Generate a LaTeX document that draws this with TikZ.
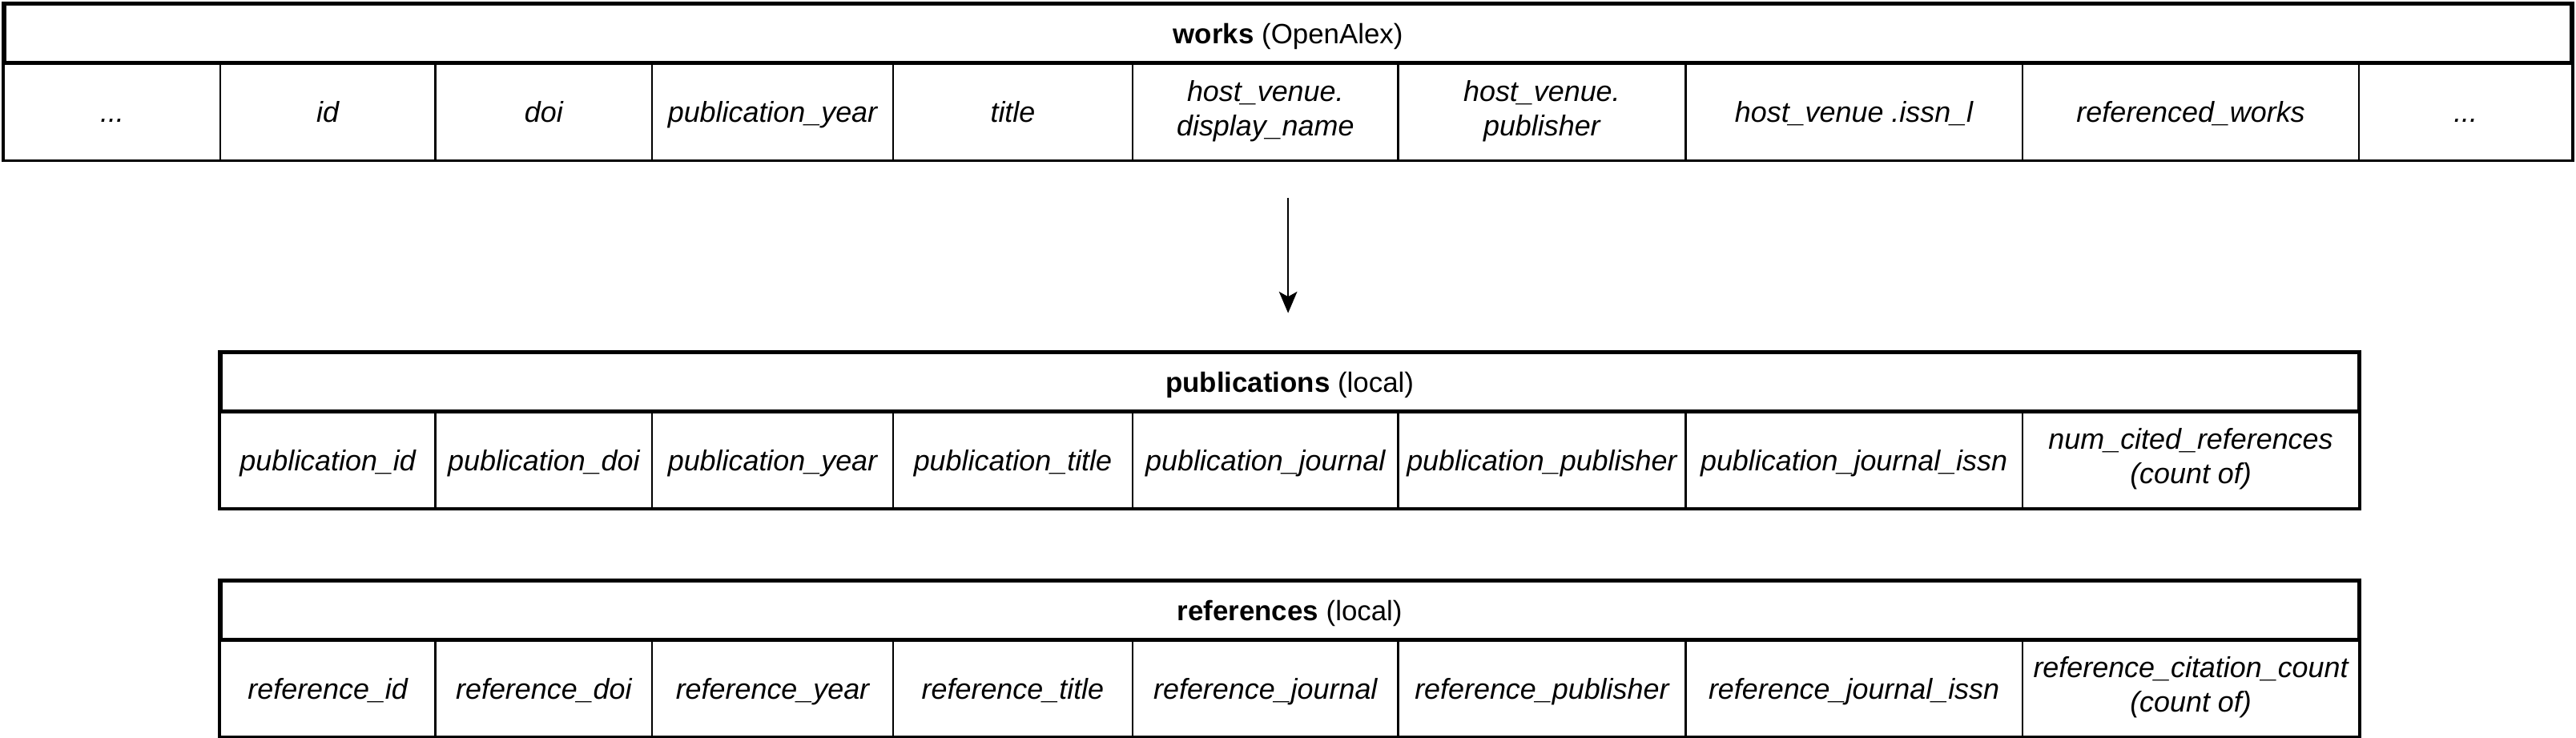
\documentclass[tikz,border=0pt]{standalone}
\usepackage{fontspec}
\setmainfont{Liberation Sans}
\usetikzlibrary{arrows.meta}

\newcommand{\cellstrut}{\rule[-4.5pt]{0pt}{22pt}}

\tikzset{
  cell/.style={draw, line width=1.1pt, inner sep=0pt, align=center,
    minimum height=58.8pt, font=\fontsize{17.5}{21}\selectfont\itshape,
    execute at begin node=\cellstrut, execute at end node=\cellstrut},
  headbox/.style={draw, line width=2.6pt, inner sep=0pt,
    minimum height=36pt, font=\fontsize{17}{21}\selectfont,
    execute at begin node=\cellstrut},
  rowframe/.style={draw, line width=1.6pt},
}

\begin{document}
\begin{tikzpicture}[x=1pt, y=-1pt]
\useasboundingbox (0,0) rectangle (1568,449);

% works (OpenAlex)
\foreach \xa/\xb/\txt [count=\i] in {2.5/134/{...}, 134/265/id, 265/397/doi,
    397/543.5/publication\_year, 543.5/689.5/title,
    689.5/851/{host\_venue.\\display\_name}, 851/1026/{host\_venue.\\publisher},
    1026/1231/host\_venue .issn\_l, 1231/1436/referenced\_works, 1436/1565.6/{...}}
  \node[cell, minimum width={(\xb-\xa)*1pt}] (w\i) at ({(\xa+\xb)/2}, 67.95) {\txt};
\draw[rowframe] (w1.north west) rectangle (w10.south east);
\node[headbox, minimum width=1563.1pt] (works) at (784.05, 20.3) {\textbf{works} (OpenAlex)};

% publications (local)
\foreach \xa/\xb/\txt [count=\i] in {134/265/publication\_id, 265/397/publication\_doi,
    397/543.5/publication\_year, 543.5/689.5/publication\_title,
    689.5/851/publication\_journal, 851/1026/publication\_publisher,
    1026/1231/publication\_journal\_issn, 1231/1436/{num\_cited\_references\\(count of)}}
  \node[cell, minimum width={(\xb-\xa)*1pt}] (p\i) at ({(\xa+\xb)/2}, 279.7) {\txt};
\draw[rowframe] (p1.north west) rectangle (p8.south east);
\node[headbox, minimum width=1302pt] (pubs) at (785, 232.3) {\textbf{publications} (local)};

% references (local)
\foreach \xa/\xb/\txt [count=\i] in {134/265/reference\_id, 265/397/reference\_doi,
    397/543.5/reference\_year, 543.5/689.5/reference\_title,
    689.5/851/reference\_journal, 851/1026/reference\_publisher,
    1026/1231/reference\_journal\_issn, 1231/1436/{reference\_citation\_count\\(count of)}}
  \node[cell, minimum width={(\xb-\xa)*1pt}] (r\i) at ({(\xa+\xb)/2}, 418.7) {\txt};
\draw[rowframe] (r1.north west) rectangle (r8.south east);
\node[headbox, minimum width=1302pt] (refs) at (785, 371.3) {\textbf{references} (local)};

\draw[-{Stealth[length=13pt, width=11pt, inset=3pt]}, line width=1.1pt,
  shorten <=22.5pt, shorten >=22.5pt] (works.south |- w1.south) -- (works.south |- pubs.north);

\end{tikzpicture}
\end{document}
